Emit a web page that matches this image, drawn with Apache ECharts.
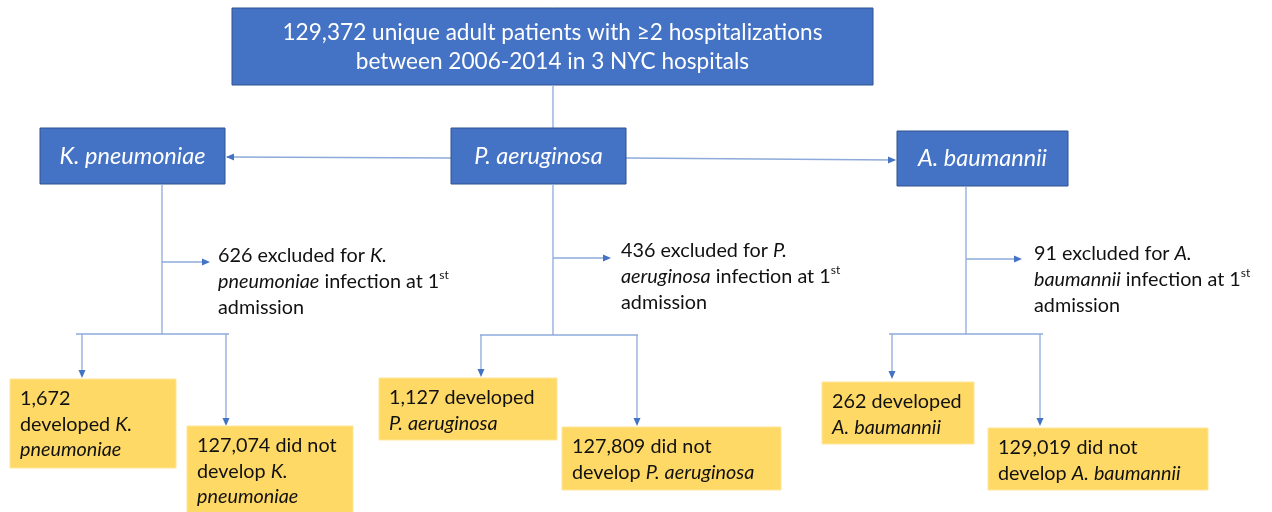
<!DOCTYPE html>
<html>
<head>
<meta charset="utf-8">
<script src="https://cdn.jsdelivr.net/npm/echarts@6/dist/echarts.min.js"></script>
<style>
html,body{margin:0;padding:0;background:#fff;}
#chart{width:1272px;height:512px;}
</style>
</head>
<body>
<div id="chart"></div>
<script>
// ---- data ----
const totalPatients = 129372;
const cohortLines = ['unique adult patients with \u22652 hospitalizations', 'between 2006-2014 in 3 NYC hospitals'];
const genus = ['K.', 'P.', 'A.'];
const species = ['pneumoniae', 'aeruginosa', 'baumannii'];
const excluded = [626, 436, 91];
const developed = [1672, 1127, 262];
const notDeveloped = [127074, 127809, 129019];

// ---- layout (positions only) ----
const FONT = 'Lato, "Liberation Sans", sans-serif';
const BLUE = '#4472C4', BLUE_EDGE = '#2F528F', LINE = '#8EAADB', YELLOW = '#FFD966';
const FS = 19.8;
const topBox = {x: 232, y: 8, w: 641, h: 77};
const orgBox = [
  {x: 40, y: 128, w: 185, h: 56},
  {x: 451, y: 128, w: 175, h: 56},
  {x: 897, y: 131, w: 171, h: 55}
];
const stemX = [162, 553, 966];
const branchY = [262, 258, 259];
const branchTip = [210, 611, 1022];
const exclText = [{x: 218, y: 256}, {x: 621, y: 251}, {x: 1034, y: 254}];
const bracketY = [334, 335, 334];
const bracketX = [[76, 229], [480, 638], [889, 1043]];
const devArrow = [{x: 82, y: 378}, {x: 481, y: 377}, {x: 892, y: 379}];
const notArrow = [{x: 226, y: 426}, {x: 637, y: 426}, {x: 1040, y: 426}];
const devBox = [{x: 10, y: 379, w: 166, h: 89}, {x: 379, y: 378, w: 178, h: 62}, {x: 822, y: 382, w: 152, h: 62}];
const notBox = [{x: 187, y: 426, w: 166, h: 90}, {x: 562, y: 427, w: 219, h: 63}, {x: 988, y: 428, w: 220, h: 62}];
// line-break templates for each box ({N}=number, {G}=genus, {S}=species)
const devTpl = ['{N}\ndeveloped {G}\n{S}', '{N} developed\n{G} {S}', '{N} developed\n{G} {S}'];
const notTpl = ['{N} did not\ndevelop {G}\n{S}', '{N} did not\ndevelop {G} {S}', '{N} did not\ndevelop {G} {S}'];

const fmt = v => v.toLocaleString('en-US');
function richText(tpl, i, num) {
  return tpl.split('\n').map(line => {
    return line.split(/(\{N\}|\{G\}|\{S\})/).filter(s => s.length).map(s => {
      if (s === '{N}') return '{n|' + fmt(num) + '}';
      if (s === '{G}') return '{i|' + genus[i] + '}';
      if (s === '{S}') return '{i|' + species[i] + '}';
      return '{n|' + s + '}';
    }).join('');
  }).join('\n');
}

const els = [];
function line(points, color) {
  els.push({type: 'polyline', shape: {points: points}, style: {stroke: color || LINE, lineWidth: 1.3, fill: null}, silent: true});
}
function head(x, y, dir) {
  const L = 8, W = 3.5;
  let pts;
  if (dir === 'down') pts = [[x - W, y - L], [x + W, y - L], [x, y]];
  else if (dir === 'right') pts = [[x - L, y - W], [x - L, y + W], [x, y]];
  else pts = [[x + L, y - W], [x + L, y + W], [x, y]];
  els.push({type: 'polygon', shape: {points: pts}, style: {fill: BLUE}, silent: true});
}

// top box
els.push({type: 'rect', shape: {x: topBox.x, y: topBox.y, width: topBox.w, height: topBox.h}, style: {fill: BLUE, stroke: BLUE_EDGE, lineWidth: 1}});
els.push({type: 'text', x: topBox.x + topBox.w / 2, y: topBox.y + topBox.h / 2 + 1, style: {
  text: fmt(totalPatients) + ' ' + cohortLines[0] + '\n' + cohortLines[1],
  fill: '#fff', font: '22.6px ' + FONT, lineHeight: 29, align: 'center', verticalAlign: 'middle'}});

// top stem
line([[stemX[1], topBox.y + topBox.h], [stemX[1], orgBox[1].y]]);
// horizontal arrows from middle box
line([[orgBox[1].x, 158], [orgBox[0].x + orgBox[0].w + 2, 157]]);
head(orgBox[0].x + orgBox[0].w + 1, 157, 'left');
line([[orgBox[1].x + orgBox[1].w, 158], [orgBox[2].x - 2, 160]]);
head(orgBox[2].x - 1, 160, 'right');

for (let i = 0; i < 3; i++) {
  const b = orgBox[i];
  els.push({type: 'rect', shape: {x: b.x, y: b.y, width: b.w, height: b.h}, style: {fill: BLUE, stroke: BLUE_EDGE, lineWidth: 1}});
  els.push({type: 'text', x: b.x + b.w / 2, y: b.y + b.h / 2, style: {
    text: genus[i] + ' ' + species[i], fill: '#fff', font: 'italic 23.5px ' + FONT, align: 'center', verticalAlign: 'middle'}});
  // stem
  line([[stemX[i], b.y + b.h], [stemX[i], bracketY[i]]]);
  // exclusion branch
  line([[stemX[i], branchY[i]], [branchTip[i] - 2, branchY[i]]]);
  head(branchTip[i], branchY[i], 'right');
  els.push({type: 'text', x: exclText[i].x, y: exclText[i].y - 13, style: {
    text: '{n|' + fmt(excluded[i]) + ' excluded for }{i|' + genus[i] + '}\n{i|' + species[i] + '}{n| infection at 1}{s|st}\n{n|admission}',
    fill: '#111', font: FS + 'px ' + FONT, align: 'left', verticalAlign: 'top',
    rich: {
      n: {fontSize: FS, fontFamily: FONT, fill: '#111', lineHeight: 26},
      i: {fontSize: FS, fontFamily: FONT, fontStyle: 'italic', fill: '#111', lineHeight: 26},
      s: {fontSize: 12, fontFamily: FONT, fill: '#111', lineHeight: 26, verticalAlign: 'top', padding: [0, 0, 6, 0]}
    }}});
  // bracket
  line([[bracketX[i][0], bracketY[i]], [bracketX[i][1], bracketY[i]]]);
  line([[devArrow[i].x, bracketY[i]], [devArrow[i].x, devArrow[i].y - 2]]);
  head(devArrow[i].x, devArrow[i].y, 'down');
  line([[notArrow[i].x, bracketY[i]], [notArrow[i].x, notArrow[i].y - 2]]);
  head(notArrow[i].x, notArrow[i].y, 'down');
  // outcome boxes
  const rich = {
    n: {fontSize: FS, fontFamily: FONT, fill: '#111', lineHeight: 25.5},
    i: {fontSize: FS, fontFamily: FONT, fontStyle: 'italic', fill: '#111', lineHeight: 25.5}
  };
  [[devBox[i], devTpl[i], developed[i]], [notBox[i], notTpl[i], notDeveloped[i]]].forEach(([bx, tpl, v]) => {
    els.push({type: 'rect', shape: {x: bx.x, y: bx.y, width: bx.w, height: bx.h}, style: {fill: YELLOW, stroke: '#FFE699', lineWidth: 1}});
    els.push({type: 'text', x: bx.x + 10, y: bx.y + 7, style: {
      text: richText(tpl, i, v), fill: '#111', font: FS + 'px ' + FONT, align: 'left', verticalAlign: 'top', rich: rich}});
  });
}

const chart = echarts.init(document.getElementById('chart'), null, {renderer: 'canvas'});
chart.setOption({
  animation: false,
  backgroundColor: '#ffffff',
  graphic: {elements: els}
});
</script>
</body>
</html>
